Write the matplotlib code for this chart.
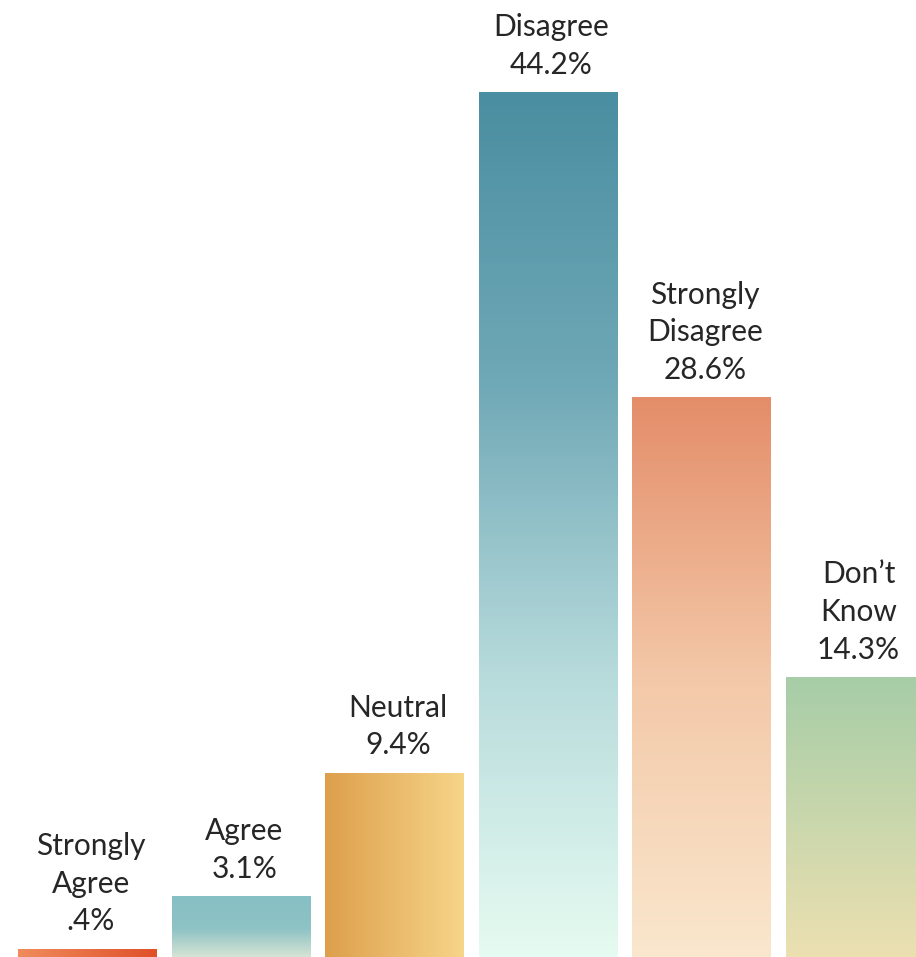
import matplotlib.pyplot as plt
import numpy as np
from matplotlib.colors import LinearSegmentedColormap

categories = ["Strongly\nAgree", "Agree", "Neutral", "Disagree", "Strongly\nDisagree", "Don\u2019t\nKnow"]
values = [0.4, 3.1, 9.4, 44.2, 28.6, 14.3]
pct_labels = [".4%", "3.1%", "9.4%", "44.2%", "28.6%", "14.3%"]

# gradient stops per bar and direction ("h" left->right, "v" bottom->top)
gradients = [
    ("h", ["#f08c5c", "#e0502a"]),
    ("v", [(0.0, "#d6e4d4"), (0.45, "#8fc3c5"), (1.0, "#86bfc4")]),
    ("h", ["#dd9f4c", "#f7d589"]),
    ("v", ["#e6fbf1", "#b6dadb", "#6fa8b6", "#4a8ea1"]),
    ("v", ["#fae7cd", "#f3c8a8", "#e48d69"]),
    ("v", ["#ece0b1", "#a6cda7"]),
]

plt.rcParams['font.family'] = ['Lato', 'DejaVu Sans']

fig = plt.figure(figsize=(9.16, 9.57), dpi=100)
ax = fig.add_axes([0, 0, 1, 1])
ax.axis('off')

width = 0.905
x = np.arange(len(values))
bars = ax.bar(x, values, width=width, color='none')

for b, (direction, stops), lab, pct in zip(bars, gradients, categories, pct_labels):
    cmap = LinearSegmentedColormap.from_list("g", stops)
    if direction == "h":
        grad = np.linspace(0, 1, 256).reshape(1, -1)
    else:
        grad = np.linspace(0, 1, 256).reshape(-1, 1)
    x0, y0 = b.get_x(), b.get_y()
    w, h = b.get_width(), b.get_height()
    ax.imshow(grad, cmap=cmap, aspect='auto', origin='lower',
              extent=(x0, x0 + w, y0, y0 + h), zorder=2)
    ax.annotate(lab + "\n" + pct, (x0 + w / 2, y0 + h), xytext=(2.5, 10),
                textcoords='offset points', ha='center', va='bottom',
                fontsize=21.5, color='#262626', linespacing=1.42)

ax.set_xlim(-0.57, 5.397)
ax.set_ylim(0, 48.95)
fig.savefig("out.png", dpi=100)
